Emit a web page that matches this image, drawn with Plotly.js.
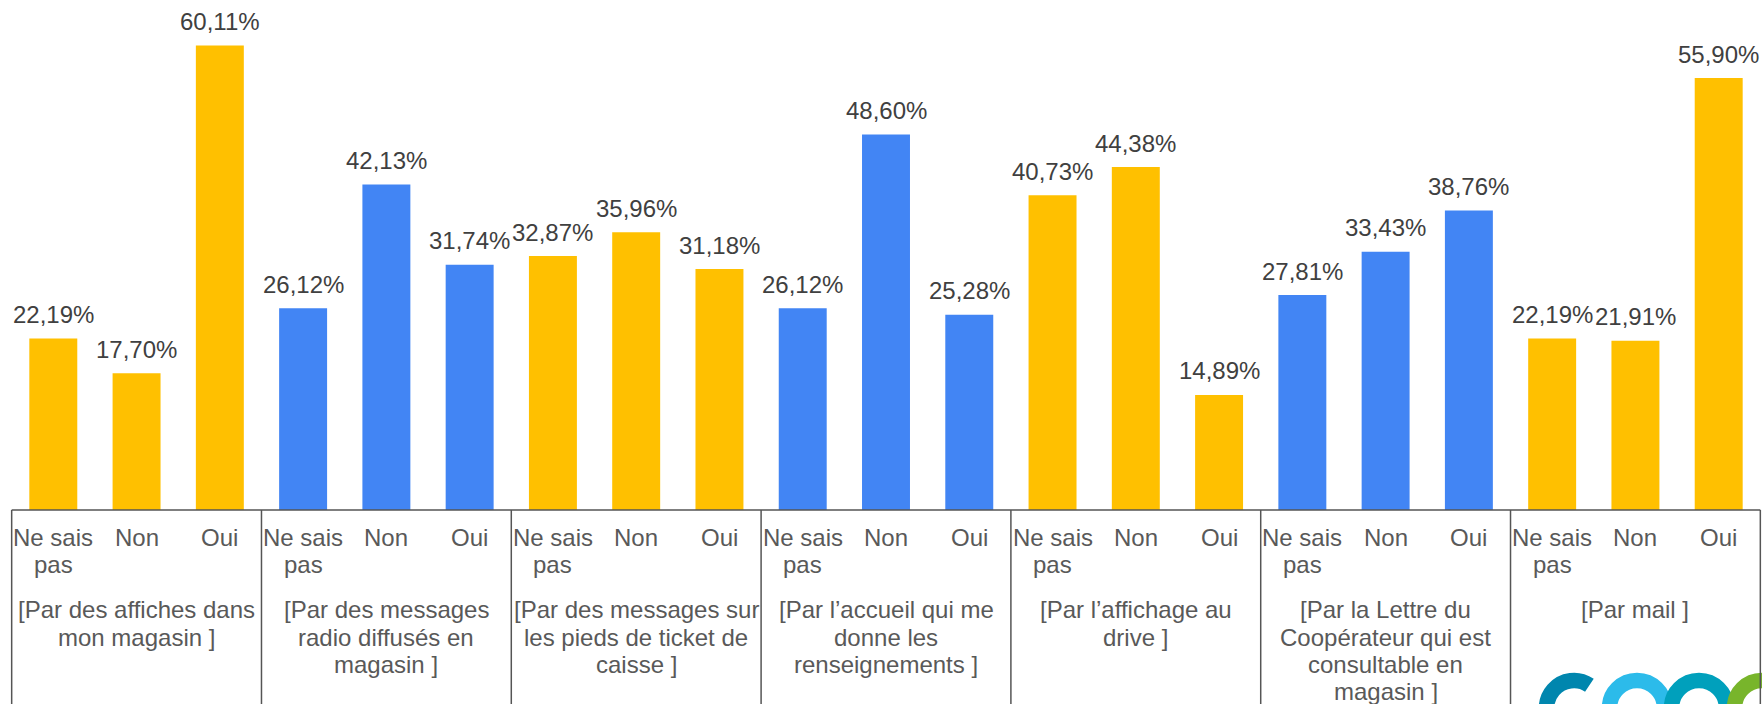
<!DOCTYPE html>
<html>
<head>
<meta charset="utf-8">
<script src="https://cdn.plot.ly/plotly-3.0.1.min.js"></script>
<style>
  html, body { margin: 0; padding: 0; background: #ffffff; }
  #chart { width: 1762px; height: 704px; }
</style>
</head>
<body>
<div id="chart"></div>
<script>
// ---------------- DATA ----------------
const groupLabels = [
  ["[Par des affiches dans", "mon magasin ]"],
  ["[Par des messages", "radio diffusés en", "magasin ]"],
  ["[Par des messages sur", "les pieds de ticket de", "caisse ]"],
  ["[Par l’accueil qui me", "donne les", "renseignements ]"],
  ["[Par l’affichage au", "drive ]"],
  ["[Par la Lettre du", "Coopérateur qui est", "consultable en", "magasin ]"],
  ["[Par mail ]"]
];
const answerLabels = [["Ne sais", "pas"], ["Non"], ["Oui"]];
const neSaisPas = [22.19, 26.12, 32.87, 26.12, 40.73, 27.81, 22.19];
const non       = [17.70, 42.13, 35.96, 48.60, 44.38, 33.43, 21.91];
const oui       = [60.11, 31.74, 31.18, 25.28, 14.89, 38.76, 55.90];

// ---------------- STYLE ----------------
const YELLOW = "#FFC000";
const BLUE = "#4285F4";
const FONT = "Arial, 'Liberation Sans', sans-serif";
const W = 1762, H = 704;
const M = {l: 10, r: 0, t: 0, b: 194};
const plotW = W - M.l - M.r, plotH = H - M.t - M.b;
const pxX = px => (px - M.l) / plotW;
const pxY = py => (H - M.b - py) / plotH;

// ---------------- BUILD ----------------
const series = [neSaisPas, non, oui];
const nA = answerLabels.length;
const xs = [], ys = [], colors = [];
groupLabels.forEach((g, gi) => {
  series.forEach((s, ai) => {
    xs.push(gi * nA + ai);
    ys.push(s[gi]);
    colors.push(gi % 2 === 0 ? YELLOW : BLUE);
  });
});

const fmt = v => v.toFixed(2).replace(".", ",") + "%";

const annotations = [];
// data labels
xs.forEach((x, i) => {
  annotations.push({
    x: x, y: ys[i], xref: "x", yref: "y",
    text: fmt(ys[i]), showarrow: false,
    xanchor: "center", yanchor: "middle", yshift: 24,
    font: {family: FONT, size: 24, color: "#404040"}
  });
});
// answer labels (first row)
const LINE = 27.3;
xs.forEach((x, i) => {
  const lines = answerLabels[i % nA];
  lines.forEach((t, li) => {
    annotations.push({
      x: x, y: 0, xref: "x", yref: "paper",
      text: t, showarrow: false,
      xanchor: "center", yanchor: "middle", yshift: -(27.7 + li * 27),
      font: {family: FONT, size: 24, color: "#595959"}
    });
  });
});
// group labels
groupLabels.forEach((lines, gi) => {
  const xc = gi * nA + (nA - 1) / 2;
  lines.forEach((t, li) => {
    annotations.push({
      x: xc, y: 0, xref: "x", yref: "paper",
      text: t, showarrow: false,
      xanchor: "center", yanchor: "middle", yshift: -(99.7 + li * LINE),
      font: {family: FONT, size: 24, color: "#595959"}
    });
  });
});

// axis box lines
const LINECOLOR = "#555555";
const shapes = [];
shapes.push({
  type: "line", xref: "x", yref: "paper",
  x0: -0.5, x1: groupLabels.length * nA - 0.5, y0: 0, y1: 0,
  line: {color: LINECOLOR, width: 1.5}
});
for (let gi = 0; gi <= groupLabels.length; gi++) {
  const xv = gi * nA - 0.5;
  shapes.push({
    type: "line", xref: "x", yref: "paper",
    x0: xv, x1: xv, y0: 0, y1: -0.45,
    line: {color: LINECOLOR, width: 1.5}
  });
}

// decorative logo (bottom-right)
const logoSvg =
  "<svg xmlns='http://www.w3.org/2000/svg' width='232' height='40' viewBox='0 0 232 40'>" +
  "<g fill='none' stroke-width='15.5'>" +
  "<path d='M59.4 21.2 A27.5 27.5 0 1 0 59.4 66.8' stroke='#0086AE'/>" +
  "<circle cx='107' cy='44' r='27.5' stroke='#2CBBEA'/>" +
  "<circle cx='169' cy='44' r='27.5' stroke='#00A0BC'/>" +
  "<circle cx='232' cy='44' r='27.5' stroke='#78B52B'/>" +
  "</g></svg>";
const images = [{
  source: "data:image/svg+xml;charset=utf-8," + encodeURIComponent(logoSvg),
  xref: "paper", yref: "paper",
  x: pxX(1530), y: pxY(664),
  sizex: 232 / plotW, sizey: 40 / plotH,
  xanchor: "left", yanchor: "top", sizing: "stretch", layer: "below"
}];

const trace = {
  type: "bar",
  x: xs, y: ys,
  marker: {color: colors, line: {width: 0}},
  hoverinfo: "skip"
};

const layout = {
  width: W, height: H,
  margin: M,
  paper_bgcolor: "#ffffff",
  plot_bgcolor: "#ffffff",
  showlegend: false,
  bargap: 0.424,
  font: {family: FONT, size: 24, color: "#595959"},
  xaxis: {
    range: [-0.52, groupLabels.length * nA - 0.48],
    showticklabels: false, showgrid: false, zeroline: false,
    showline: false, ticks: "", fixedrange: true
  },
  yaxis: {
    range: [0, 66],
    showticklabels: false, showgrid: false, zeroline: false,
    showline: false, ticks: "", fixedrange: true
  },
  annotations: annotations,
  shapes: shapes,
  images: images
};

Plotly.newPlot("chart", [trace], layout, {displayModeBar: false, staticPlot: true});
</script>
</body>
</html>
